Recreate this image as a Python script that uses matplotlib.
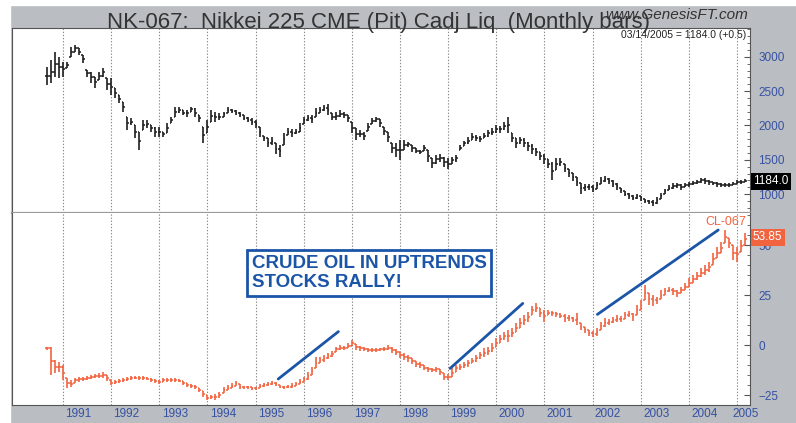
import matplotlib.pyplot as plt
import numpy as np
from matplotlib.ticker import MultipleLocator
from matplotlib.patches import Rectangle
import matplotlib.transforms as mtrans

plt.rcParams['font.family'] = ['Liberation Sans', 'DejaVu Sans']

# --- Data: monthly bars, Sep 1990 .. Mar 2005 ---
first_month = 1990 + 8 / 12

nk_high = [2858, 2956, 3077, 3004,
           2931, 2931, 3150, 3175, 3126, 3029, 2810, 2785, 2712, 2785, 2834, 2688,
           2688, 2542, 2444, 2347, 2128, 2103, 2006, 1909, 2079, 2079, 2006, 1982,
           1982, 1909, 2030, 2128, 2274, 2274, 2225, 2225, 2274, 2250, 2152, 1982,
           2079, 2225, 2201, 2177, 2201, 2274, 2235, 2225, 2201, 2152, 2118, 2103,
           2079, 1982, 1845, 1811, 1836, 1738, 1714, 1884, 1957, 1943, 1943, 2030,
           2128, 2152, 2152, 2250, 2274, 2298, 2313, 2177, 2201, 2225, 2201, 2152,
           2055, 1957, 1933, 1909, 2030, 2113, 2128, 2089, 1982, 1909, 1738, 1738,
           1787, 1787, 1763, 1714, 1665, 1641, 1714, 1641, 1519, 1568, 1582, 1534,
           1519, 1543, 1568, 1714, 1777, 1826, 1884, 1860, 1845, 1884, 1933, 1957,
           2006, 1992, 2055, 2128, 1884, 1811, 1836, 1811, 1763, 1728, 1665, 1616,
           1582, 1505, 1470, 1519, 1519, 1446, 1373, 1310, 1251, 1164, 1154, 1144,
           1130, 1178, 1251, 1261, 1242, 1202, 1164, 1096, 1047, 1017, 984, 1008,
           974, 935, 920, 910, 959, 1017, 1081, 1130, 1164, 1164, 1144, 1164,
           1178, 1193, 1213, 1242, 1242, 1213, 1183, 1178, 1164, 1164, 1164, 1178,
           1202, 1202, 1222]
nk_low = [2590, 2615, 2712, 2688,
          2712, 2834, 3004, 3077, 3029, 2907, 2712, 2615, 2542, 2664, 2712, 2517,
          2444, 2396, 2323, 2201, 1933, 2006, 1811, 1641, 1933, 1957, 1909, 1836,
          1836, 1836, 1884, 2030, 2128, 2177, 2152, 2128, 2201, 2128, 2055, 1738,
          1884, 2055, 2055, 2079, 2128, 2177, 2177, 2152, 2118, 2079, 2055, 2006,
          1957, 1836, 1777, 1689, 1714, 1582, 1534, 1714, 1860, 1836, 1875, 1909,
          2020, 2069, 2030, 2128, 2186, 2215, 2152, 2079, 2079, 2118, 2103, 2055,
          1884, 1787, 1826, 1787, 1923, 2020, 2055, 1982, 1860, 1763, 1592, 1543,
          1495, 1641, 1689, 1616, 1592, 1582, 1631, 1470, 1387, 1446, 1470, 1397,
          1373, 1446, 1470, 1641, 1699, 1728, 1787, 1777, 1763, 1811, 1836, 1860,
          1884, 1894, 1933, 1884, 1763, 1665, 1728, 1689, 1631, 1582, 1553, 1495,
          1436, 1387, 1202, 1349, 1407, 1324, 1251, 1193, 1115, 1008, 1047, 1056,
          1032, 1081, 1144, 1178, 1154, 1105, 1066, 1017, 969, 935, 910, 935,
          901, 872, 852, 832, 862, 935, 998, 1056, 1081, 1096, 1056, 1105,
          1105, 1130, 1144, 1164, 1154, 1130, 1130, 1105, 1105, 1105, 1105, 1130,
          1144, 1154, 1173]

cl_high = [-0.8, -1.0, -7.5, -8.5,
           -10, -16.5, -17.5, -16.3, -15.8, -15.8, -15.3, -15, -14.7, -14.2, -13.7, -15,
           -17.5, -17.5, -17, -16.3, -15.8, -15.7, -15.5, -15.7, -15.7, -15.8, -16.3, -17,
           -17.5, -16.7, -16.3, -16.7, -16.7, -17, -18, -19.2, -19.7, -20, -21.3, -23,
           -25, -25, -24.7, -23.3, -20.8, -20, -19.2, -18, -19.7, -20.3, -20.3, -20.8,
           -20.8, -19.7, -19.2, -18.7, -18, -18.3, -20, -20.3, -20, -19.2, -18.3, -17,
           -15.8, -13.3, -10.8, -5.8, -5.8, -5, -4.2, -3, -0.8, 0, -0.3, 0.8,
           2.5, 0.3, -0.3, -0.8, -1.3, -1.3, -1.3, -1.3, -0.8, 0, -1, -2,
           -3.3, -4.2, -5, -6.7, -8, -8.7, -10, -10.8, -11.3, -10.8, -12, -14.2,
           -14.7, -11.7, -10, -9.7, -8.3, -7.5, -6.7, -5, -3.3, -1.7, -0.8, 0.8,
           3.3, 5, 6.7, 7.5, 8.3, 10.8, 13.3, 15, 16.7, 19.7, 20.8, 18.3,
           17.5, 17.5, 17, 16.7, 15.8, 15.3, 15, 14.2, 15.8, 10.8, 9.2, 7.5,
           7, 8.3, 11.7, 13.3, 13, 14.2, 15, 14.7, 16.7, 17, 15.8, 20,
           22.5, 30, 25.8, 25, 24.2, 27.5, 28.7, 29.2, 28.7, 27.5, 29.2, 30.8,
           33.3, 35, 36.7, 38.3, 40, 41.7, 45.8, 49.2, 51.7, 57.5, 53.3, 50,
           49.2, 52.5, 55.8]
cl_low = [-2.5, -15, -14, -13.5,
          -17.5, -21.7, -21, -19, -18.3, -18, -17.5, -17, -16.7, -16.3, -16.3, -18,
          -20, -19.7, -19.2, -18.3, -18, -17.3, -17.2, -17.3, -17.5, -17.7, -18.3, -19.2,
          -19.7, -18.7, -18.3, -18.3, -18.3, -18.7, -20, -20.8, -21.3, -22, -23.7, -25.8,
          -27.5, -27, -27.5, -26.3, -24.2, -22.5, -21.7, -20.3, -22, -22, -22, -22.5,
          -22.5, -21.7, -20.8, -20.3, -20, -20.3, -21.7, -22, -21.7, -21.3, -20.3, -19.7,
          -18.3, -17.5, -15, -11.7, -9.2, -8.3, -7, -5.8, -3.3, -2.5, -2.5, -1.7,
          -0.3, -2.5, -3, -3, -3.3, -3.3, -3.3, -3, -3, -2.5, -4, -5,
          -6.7, -7.5, -8.3, -9.7, -10.8, -11.3, -12.5, -13.3, -13.7, -13.3, -15, -17.5,
          -17.5, -15.8, -13.3, -12.5, -11.3, -10.8, -9.2, -8.3, -7, -5.8, -5, -3.3,
          -0.8, 0.8, 2.5, 1.7, 4.2, 6.7, 8.3, 10, 11.7, 15, 16.7, 14.2,
          11.7, 15, 14.7, 14.2, 13.3, 11.7, 12, 11.3, 10, 7.5, 5.8, 4.7,
          4.2, 4.7, 7.5, 9.2, 10, 10.8, 11.3, 11.7, 13, 14.2, 12, 15,
          17.5, 22.5, 20, 19.7, 20.3, 23, 25, 26.3, 25, 24.2, 25.8, 27.5,
          29.2, 30.8, 32.5, 34.2, 35, 36.7, 40, 43.3, 45.8, 50.8, 48.3, 42.5,
          41.7, 46.7, 50]

years = list(range(1991, 2006))
nk_ticks = [1000, 1500, 2000, 2500, 3000]
cl_ticks = [-25, 0, 25, 50]
nk_last = 1184.0
cl_last = 53.85

# hand-drawn trend lines (year, value)
trend_x = [[1995.47, 1996.72], [1999.04, 2000.55], [2002.10, 2004.61]]
trend_y = [[-17.0, 6.7], [-11.7, 20.8], [15.3, 57.5]]

BG = '#babdc1'
TXT_BLUE = '#3552a3'
RED = '#f26440'
NOTE_BLUE = '#1b55a8'


def draw_bars(ax, t, hi, lo, color):
    hi = np.asarray(hi, float)
    lo = np.asarray(lo, float)
    mid = (hi + lo) / 2
    opn = np.clip(np.r_[mid[0], mid[:-1]], lo, hi)
    ax.vlines(t, lo, hi, color=color, lw=1.2)
    ax.hlines(opn, t - 0.035, t, color=color, lw=1.1)
    ax.hlines(mid, t, t + 0.035, color=color, lw=1.1)


fig = plt.figure(figsize=(7.96, 4.23), dpi=100)
fig.patch.set_facecolor(BG)
fig.add_artist(Rectangle((0, 0), 10 / 796, 1, transform=fig.transFigure,
                         color='white', zorder=0))
fig.add_artist(Rectangle((0, 1 - 5 / 423), 1, 5 / 423, transform=fig.transFigure,
                         color='white', zorder=0))

ax1 = fig.add_axes([0.01508, 0.49645, 0.92714, 0.43735])
ax2 = fig.add_axes([0.01508, 0.04255, 0.92714, 0.45390])

t = first_month + np.arange(len(nk_high)) / 12
draw_bars(ax1, t, nk_high, nk_low, '#1e1e1e')
draw_bars(ax2, t, cl_high, cl_low, RED)

for xs, ys in zip(trend_x, trend_y):
    ax2.plot(xs, ys, color=NOTE_BLUE, lw=2.0, solid_capstyle='round')

for ax in (ax1, ax2):
    ax.set_xlim(1989.94, 2005.27)
    ax.set_xticks(years, minor=True)
    ax.grid(which='minor', axis='x', ls=(0, (1.2, 1.6)), color='#8a8a8a', lw=0.8)
    ax.yaxis.tick_right()
    ax.tick_params(axis='y', which='both', direction='in', labelcolor=TXT_BLUE,
                   labelsize=8.5, pad=6, color='#555')
    ax.tick_params(axis='y', which='major', length=4)
    ax.tick_params(axis='y', which='minor', length=2)
    ax.tick_params(axis='x', which='both', length=0)
    for s in ax.spines.values():
        s.set_color('#555')
        s.set_linewidth(0.8)

ax1.set_ylim(725, 3420)
ax1.set_yticks(nk_ticks)
ax1.yaxis.set_minor_locator(MultipleLocator(100))
ax1.set_xticks([])
ax1.spines['bottom'].set_color('#9a9a9a')
ax1.spines['bottom'].set_linewidth(1.6)

ax2.set_ylim(-30, 66)
ax2.set_yticks(cl_ticks)
ax2.yaxis.set_minor_locator(MultipleLocator(5))
ax2.spines['top'].set_visible(False)
label_pos = [min(y + 0.32, 2005.17) for y in years]
ax2.set_xticks(label_pos)
ax2.set_xticklabels([str(y) for y in years])
ax2.tick_params(axis='x', which='major', labelcolor=TXT_BLUE, labelsize=8.5, pad=2)

# last-price tags on the right
tr1 = mtrans.blended_transform_factory(ax1.transAxes, ax1.transData)
ax1.text(1.004, nk_last, f'{nk_last:.1f}', transform=tr1, ha='left', va='center',
         color='white', fontsize=8.5, clip_on=False,
         bbox=dict(boxstyle='square,pad=0.2', fc='black', ec='none'))
tr2 = mtrans.blended_transform_factory(ax2.transAxes, ax2.transData)
ax2.text(1.004, cl_last, f'{cl_last:.2f}', transform=tr2, ha='left', va='center',
         color='white', fontsize=8.5, clip_on=False,
         bbox=dict(boxstyle='square,pad=0.2', fc=RED, ec='none'))

ax2.text(0.995, 0.985, 'CL-067', transform=ax2.transAxes, ha='right', va='top',
         color=RED, fontsize=9)
ax1.text(0.995, 0.99, f'03/14/2005 = {nk_last:.1f} (+0.5)', transform=ax1.transAxes,
         ha='right', va='top', fontsize=7.5, color='#222')

ax2.text(0.325, 0.6875, 'CRUDE OIL IN UPTRENDS\nSTOCKS RALLY!', transform=ax2.transAxes,
         ha='left', va='center', fontsize=13.5, fontweight='bold', color=NOTE_BLUE,
         linespacing=1.15,
         bbox=dict(boxstyle='square,pad=0.25', fc='white', ec=NOTE_BLUE, lw=2))

fig.text(107 / 796, 1 - 28 / 423, 'NK-067:  Nikkei 225 CME (Pit) Cadj Liq  (Monthly bars)',
         ha='left', va='baseline', fontsize=16, color='#333')
fig.text(748 / 796, 1 - 19 / 423, 'www.GenesisFT.com', ha='right', va='baseline',
         fontsize=11, style='italic', color='#333')

fig.savefig('out.png', dpi=100, facecolor=fig.get_facecolor())
